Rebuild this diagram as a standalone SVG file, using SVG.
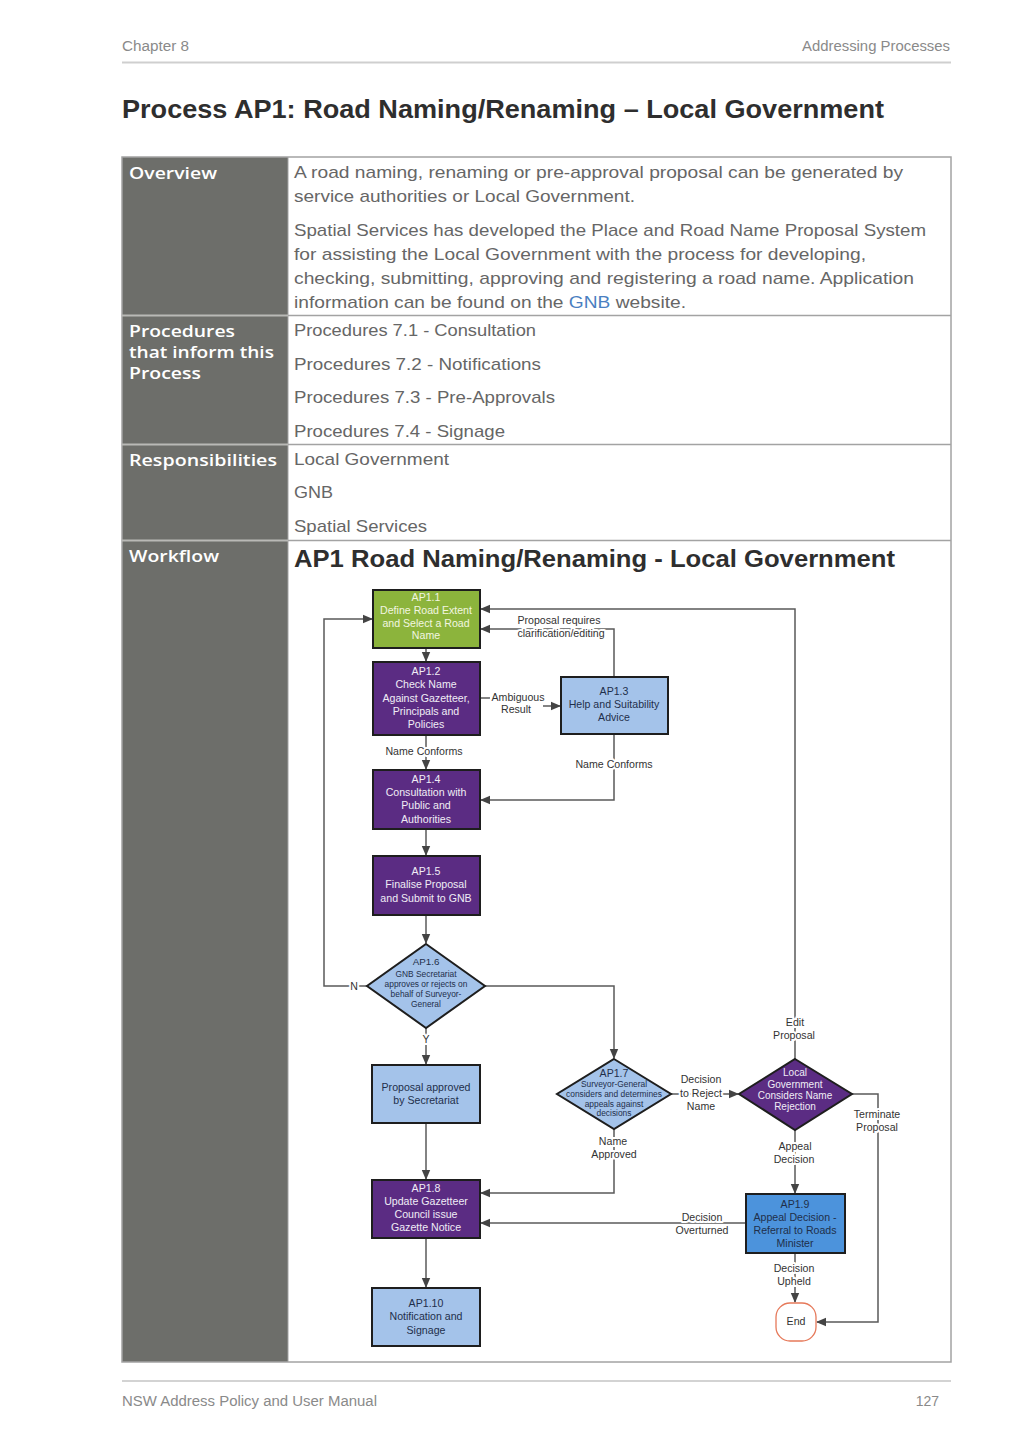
<svg xmlns="http://www.w3.org/2000/svg" width="1024" height="1449" viewBox="0 0 1024 1449">
<style>
.hdr{font-family:"Liberation Sans",Arial,sans-serif;font-size:14px;fill:#8a8a8a}
.title{font-family:"Liberation Sans",Arial,sans-serif;font-size:26px;font-weight:bold;fill:#2e2e2e}
.lbl{font-family:"Open Sans","Liberation Sans",Arial,sans-serif;font-size:16.5px;font-weight:600;fill:#ffffff}
.body{font-family:"Liberation Sans",Arial,sans-serif;font-size:17px;fill:#666666}
.wft{font-family:"Liberation Sans",Arial,sans-serif;font-size:23px;font-weight:bold;fill:#2e2e2e}
.nt{font-family:"Liberation Sans",Arial,sans-serif;font-size:10.6px;text-anchor:middle}
.ns{font-family:"Liberation Sans",Arial,sans-serif;font-size:8.4px;text-anchor:middle}
.lt{fill:#f0ecf6}
.gt{fill:#f2f6e0}
.dt{fill:#1f2f4a}
.el{font-family:"Liberation Sans",Arial,sans-serif;font-size:10.6px;text-anchor:middle;fill:#333;stroke:#fff;stroke-width:4px;paint-order:stroke;stroke-linejoin:round}
.box{stroke:#1e1e1e;stroke-width:2}
.purple{fill:#5b2c83}
.green{fill:#8cb43c}
.lblue{fill:#a4c3ea}
.mblue{fill:#4c93dc}
.conn{fill:none;stroke:#5a5a5a;stroke-width:1.5}
</style>
<defs>
<marker id="arr" markerUnits="userSpaceOnUse" markerWidth="10" markerHeight="10" viewBox="0 0 10 10" refX="9" refY="5" orient="auto">
<path d="M0,0.8 L10,5 L0,9.2 Z" fill="#444"/>
</marker>
</defs>
<rect width="1024" height="1449" fill="#ffffff"/>

<!-- page header -->
<text class="hdr" x="122" y="51" textLength="67" lengthAdjust="spacingAndGlyphs">Chapter 8</text>
<text class="hdr" x="950" y="51" text-anchor="end" textLength="148" lengthAdjust="spacingAndGlyphs">Addressing Processes</text>
<line x1="122" y1="62.5" x2="951" y2="62.5" stroke="#cfcfcf" stroke-width="2"/>
<text class="title" x="122" y="118" textLength="762" lengthAdjust="spacingAndGlyphs">Process AP1: Road Naming/Renaming – Local Government</text>

<!-- table -->
<g id="table">
<rect x="122" y="157" width="166" height="1205" fill="#6d6e6a"/>
<rect x="122" y="157" width="829" height="1205" fill="none" stroke="#a3a3a3" stroke-width="1.5"/>
<line x1="288" y1="157" x2="288" y2="1362" stroke="#a3a3a3" stroke-width="1"/>
<line x1="122" y1="315.5" x2="288" y2="315.5" stroke="#b9b9b6" stroke-width="2"/>
<line x1="288" y1="315.5" x2="951" y2="315.5" stroke="#a3a3a3" stroke-width="1.5"/>
<line x1="122" y1="444.5" x2="288" y2="444.5" stroke="#b9b9b6" stroke-width="2"/>
<line x1="288" y1="444.5" x2="951" y2="444.5" stroke="#a3a3a3" stroke-width="1.5"/>
<line x1="122" y1="540.5" x2="288" y2="540.5" stroke="#b9b9b6" stroke-width="2"/>
<line x1="288" y1="540.5" x2="951" y2="540.5" stroke="#a3a3a3" stroke-width="1.5"/>

<text class="lbl" x="129" y="179" textLength="88" lengthAdjust="spacingAndGlyphs">Overview</text>
<text class="lbl" x="129" y="337" textLength="106" lengthAdjust="spacingAndGlyphs">Procedures</text>
<text class="lbl" x="129" y="358" textLength="145" lengthAdjust="spacingAndGlyphs">that inform this</text>
<text class="lbl" x="129" y="379" textLength="72" lengthAdjust="spacingAndGlyphs">Process</text>
<text class="lbl" x="129" y="466" textLength="148" lengthAdjust="spacingAndGlyphs">Responsibilities</text>
<text class="lbl" x="129" y="562" textLength="90" lengthAdjust="spacingAndGlyphs">Workflow</text>

<text class="body" x="294" y="178" textLength="609" lengthAdjust="spacingAndGlyphs">A road naming, renaming or pre-approval proposal can be generated by</text>
<text class="body" x="294" y="202" textLength="341" lengthAdjust="spacingAndGlyphs">service authorities or Local Government.</text>
<text class="body" x="294" y="236" textLength="632" lengthAdjust="spacingAndGlyphs">Spatial Services has developed the Place and Road Name Proposal System</text>
<text class="body" x="294" y="260" textLength="572" lengthAdjust="spacingAndGlyphs">for assisting the Local Government with the process for developing,</text>
<text class="body" x="294" y="284" textLength="620" lengthAdjust="spacingAndGlyphs">checking, submitting, approving and registering a road name. Application</text>
<text class="body" x="294" y="308" textLength="392" lengthAdjust="spacingAndGlyphs">information can be found on the <tspan fill="#4a7fc1">GNB</tspan> website.</text>

<text class="body" x="294" y="336" textLength="242" lengthAdjust="spacingAndGlyphs">Procedures 7.1 - Consultation</text>
<text class="body" x="294" y="370" textLength="247" lengthAdjust="spacingAndGlyphs">Procedures 7.2 - Notifications</text>
<text class="body" x="294" y="403" textLength="261" lengthAdjust="spacingAndGlyphs">Procedures 7.3 - Pre-Approvals</text>
<text class="body" x="294" y="437" textLength="211" lengthAdjust="spacingAndGlyphs">Procedures 7.4 - Signage</text>

<text class="body" x="294" y="465" textLength="155" lengthAdjust="spacingAndGlyphs">Local Government</text>
<text class="body" x="294" y="498" textLength="39" lengthAdjust="spacingAndGlyphs">GNB</text>
<text class="body" x="294" y="532" textLength="133" lengthAdjust="spacingAndGlyphs">Spatial Services</text>

<text class="wft" x="294" y="567" textLength="601" lengthAdjust="spacingAndGlyphs">AP1 Road Naming/Renaming - Local Government</text>
</g>

<!-- connectors -->
<g id="connectors">
<path class="conn" d="M426,648 V661" marker-end="url(#arr)"/>
<path class="conn" d="M480,698 H490" />
<path class="conn" d="M543,706 H560" marker-end="url(#arr)"/>
<path class="conn" d="M614,677 V629 H481" marker-end="url(#arr)"/>
<path class="conn" d="M795,1059 V609 H481" marker-end="url(#arr)"/>
<path class="conn" d="M426,735 V769" marker-end="url(#arr)"/>
<path class="conn" d="M614,734 V800 H481" marker-end="url(#arr)"/>
<path class="conn" d="M426,829 V855" marker-end="url(#arr)"/>
<path class="conn" d="M426,915 V943" marker-end="url(#arr)"/>
<path class="conn" d="M367,986 H324 V619 H372" marker-end="url(#arr)"/>
<path class="conn" d="M485,986 H614 V1058" marker-end="url(#arr)"/>
<path class="conn" d="M426,1028 V1064" marker-end="url(#arr)"/>
<path class="conn" d="M426,1123 V1179" marker-end="url(#arr)"/>
<path class="conn" d="M614,1129 V1193 H481" marker-end="url(#arr)"/>
<path class="conn" d="M671,1094 H738" marker-end="url(#arr)"/>
<path class="conn" d="M852,1094 H878 V1322 H817" marker-end="url(#arr)"/>
<path class="conn" d="M795,1130 V1193" marker-end="url(#arr)"/>
<path class="conn" d="M746,1223 H481" marker-end="url(#arr)"/>
<path class="conn" d="M795,1253 V1302" marker-end="url(#arr)"/>
<path class="conn" d="M426,1238 V1287" marker-end="url(#arr)"/>

<text class="el" x="559" y="624">Proposal requires</text>
<text class="el" x="561" y="637">clarification/editing</text>
<text class="el" x="518" y="701">Ambiguous</text>
<text class="el" x="516" y="713">Result</text>
<text class="el" x="424" y="755">Name Conforms</text>
<text class="el" x="614" y="768">Name Conforms</text>
<text class="el" x="354" y="990">N</text>
<text class="el" x="426" y="1043">Y</text>
<text class="el" x="795" y="1026">Edit</text>
<text class="el" x="794" y="1039">Proposal</text>
<text class="el" x="701" y="1083">Decision</text>
<text class="el" x="701" y="1097">to Reject</text>
<text class="el" x="701" y="1110">Name</text>
<text class="el" x="613" y="1145">Name</text>
<text class="el" x="614" y="1158">Approved</text>
<text class="el" x="877" y="1118">Terminate</text>
<text class="el" x="877" y="1131">Proposal</text>
<text class="el" x="795" y="1150">Appeal</text>
<text class="el" x="794" y="1163">Decision</text>
<text class="el" x="702" y="1221">Decision</text>
<text class="el" x="702" y="1234">Overturned</text>
<text class="el" x="794" y="1272">Decision</text>
<text class="el" x="794" y="1285">Upheld</text>
</g>

<!-- nodes -->
<g id="ap1-1">
<rect class="box green" x="373" y="590" width="107" height="58"/>
<text class="nt gt" x="426" y="601">AP1.1</text>
<text class="nt gt" x="426" y="614">Define Road Extent</text>
<text class="nt gt" x="426" y="627">and Select a Road</text>
<text class="nt gt" x="426" y="639">Name</text>
</g>
<g id="ap1-2">
<rect class="box purple" x="373" y="662" width="107" height="73"/>
<text class="nt lt" x="426" y="675">AP1.2</text>
<text class="nt lt" x="426" y="688">Check Name</text>
<text class="nt lt" x="426" y="702">Against Gazetteer,</text>
<text class="nt lt" x="426" y="715">Principals and</text>
<text class="nt lt" x="426" y="728">Policies</text>
</g>
<g id="ap1-3">
<rect class="box lblue" x="561" y="677" width="107" height="57"/>
<text class="nt dt" x="614" y="695">AP1.3</text>
<text class="nt dt" x="614" y="708">Help and Suitability</text>
<text class="nt dt" x="614" y="721">Advice</text>
</g>
<g id="ap1-4">
<rect class="box purple" x="373" y="770" width="107" height="59"/>
<text class="nt lt" x="426" y="783">AP1.4</text>
<text class="nt lt" x="426" y="796">Consultation with</text>
<text class="nt lt" x="426" y="809">Public and</text>
<text class="nt lt" x="426" y="823">Authorities</text>
</g>
<g id="ap1-5">
<rect class="box purple" x="373" y="856" width="107" height="59"/>
<text class="nt lt" x="426" y="875">AP1.5</text>
<text class="nt lt" x="426" y="888">Finalise Proposal</text>
<text class="nt lt" x="426" y="902">and Submit to GNB</text>
</g>
<g id="ap1-6">
<polygon class="box lblue" points="426,944 485,986 426,1028 367,986"/>
<text class="nt dt" x="426" y="965" style="font-size:9.8px">AP1.6</text>
<text class="ns dt" x="426" y="977">GNB Secretariat</text>
<text class="ns dt" x="426" y="987">approves or rejects on</text>
<text class="ns dt" x="426" y="997">behalf of Surveyor-</text>
<text class="ns dt" x="426" y="1007">General</text>
</g>
<g id="approved">
<rect class="box lblue" x="372" y="1065" width="108" height="58"/>
<text class="nt dt" x="426" y="1091">Proposal approved</text>
<text class="nt dt" x="426" y="1104">by Secretariat</text>
</g>
<g id="ap1-7">
<polygon class="box lblue" points="614,1059 671,1094 614,1129 557,1094"/>
<text class="nt dt" x="614" y="1077">AP1.7</text>
<text class="ns dt" x="614" y="1087">Surveyor-General</text>
<text class="ns dt" x="614" y="1097">considers and determines</text>
<text class="ns dt" x="614" y="1107">appeals against</text>
<text class="ns dt" x="614" y="1116">decisions</text>
</g>
<g id="lg-rejection">
<polygon class="box purple" points="795,1059 852,1094 795,1130 739,1094"/>
<text class="nt lt" x="795" y="1076" style="font-size:10px">Local</text>
<text class="nt lt" x="795" y="1088" style="font-size:10px">Government</text>
<text class="nt lt" x="795" y="1099" style="font-size:10px">Considers Name</text>
<text class="nt lt" x="795" y="1110" style="font-size:10px">Rejection</text>
</g>
<g id="ap1-8">
<rect class="box purple" x="372" y="1180" width="108" height="58"/>
<text class="nt lt" x="426" y="1192">AP1.8</text>
<text class="nt lt" x="426" y="1205">Update Gazetteer</text>
<text class="nt lt" x="426" y="1218">Council issue</text>
<text class="nt lt" x="426" y="1231">Gazette Notice</text>
</g>
<g id="ap1-9">
<rect class="box mblue" x="746" y="1194" width="99" height="59"/>
<text class="nt dt" x="795" y="1208">AP1.9</text>
<text class="nt dt" x="795" y="1221">Appeal Decision -</text>
<text class="nt dt" x="795" y="1234">Referral to Roads</text>
<text class="nt dt" x="795" y="1247">Minister</text>
</g>
<g id="ap1-10">
<rect class="box lblue" x="372" y="1288" width="108" height="58"/>
<text class="nt dt" x="426" y="1307">AP1.10</text>
<text class="nt dt" x="426" y="1320">Notification and</text>
<text class="nt dt" x="426" y="1334">Signage</text>
</g>
<g id="end">
<rect x="776" y="1303" width="40" height="38" rx="14" ry="14" fill="#ffffff" stroke="#e6795a" stroke-width="1.3"/>
<text class="nt" x="796" y="1325" fill="#333">End</text>
</g>

<!-- footer -->
<line x1="122" y1="1381" x2="951" y2="1381" stroke="#d3d3d3" stroke-width="2"/>
<text class="hdr" x="122" y="1406" textLength="255" lengthAdjust="spacingAndGlyphs">NSW Address Policy and User Manual</text>
<text class="hdr" x="939" y="1406" text-anchor="end">127</text>
</svg>
